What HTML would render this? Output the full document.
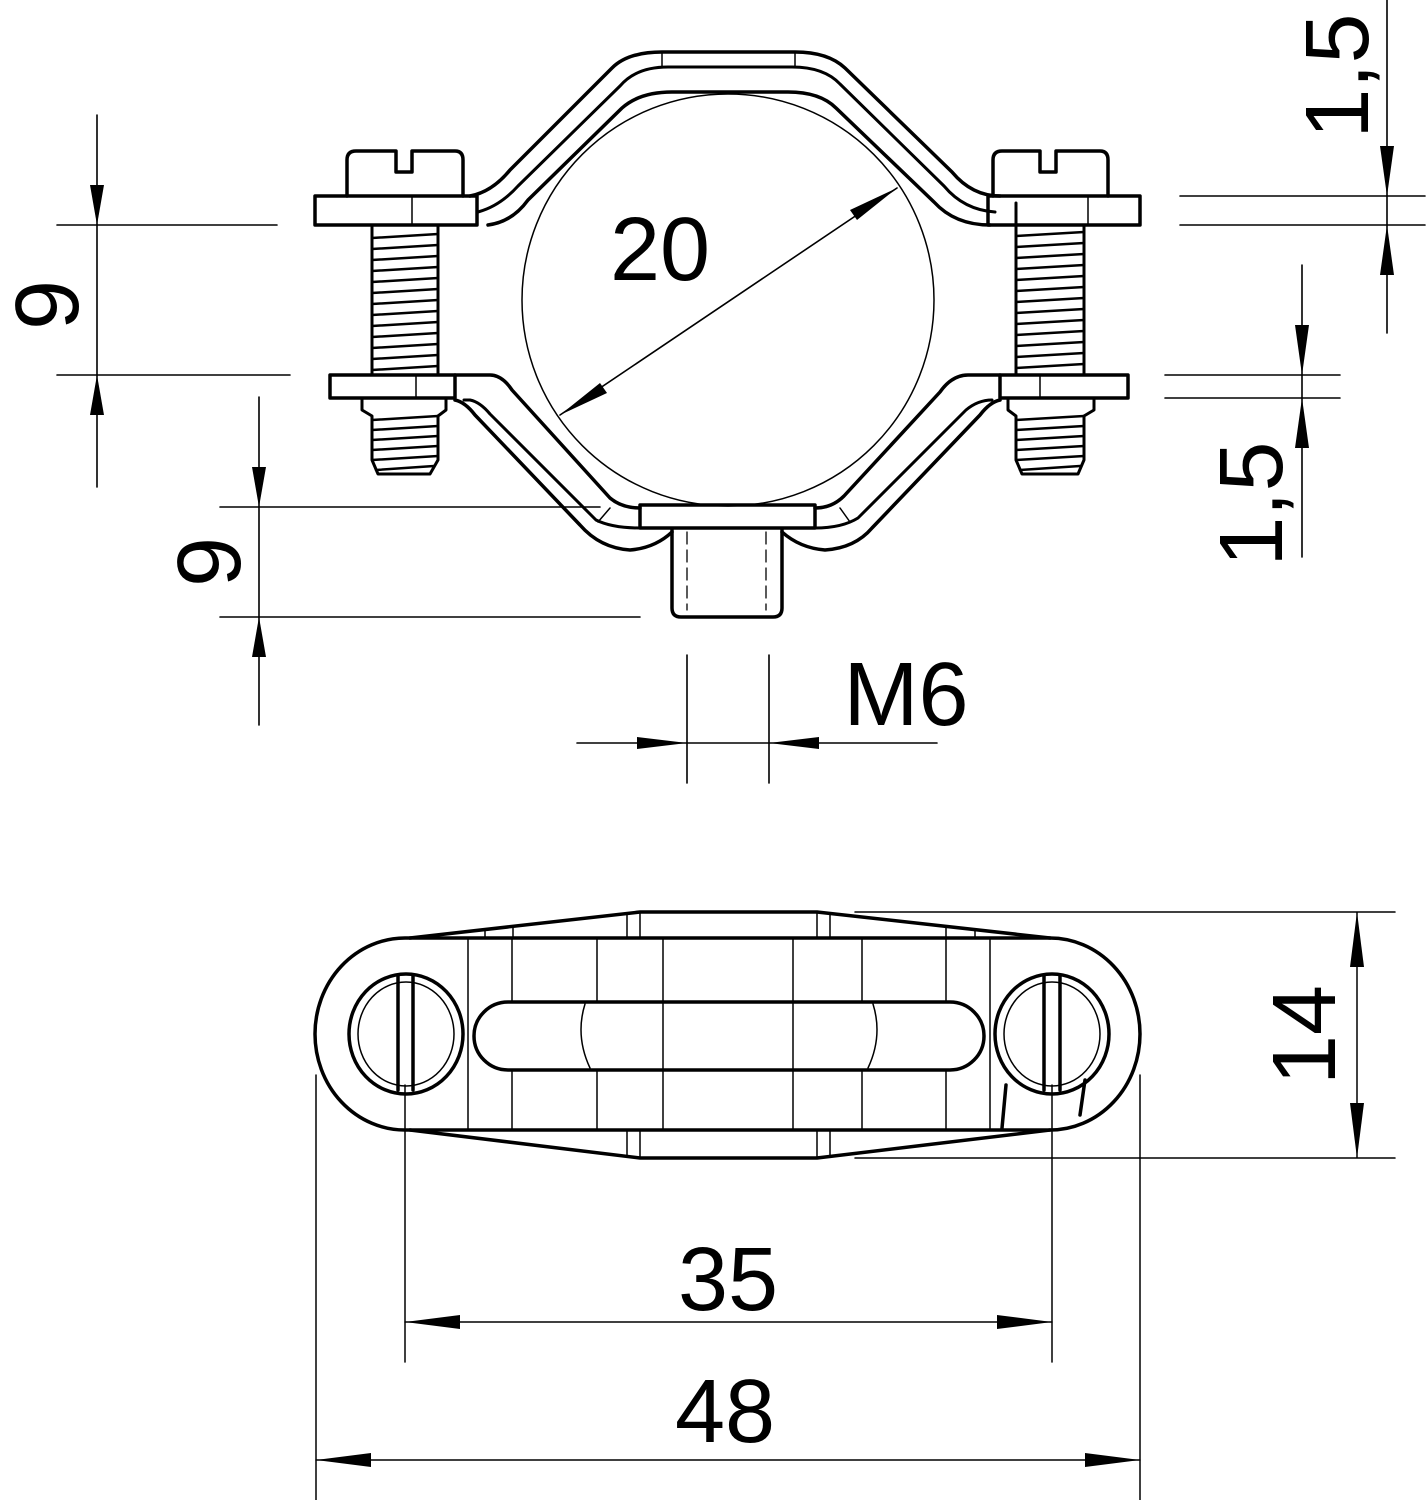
<!DOCTYPE html>
<html><head><meta charset="utf-8"><style>html,body{margin:0;padding:0;background:#fff}svg{display:block}</style></head>
<body>
<svg width="1427" height="1500" viewBox="0 0 1427 1500" xmlns="http://www.w3.org/2000/svg">
<rect width="1427" height="1500" fill="#fff"/>
<g fill="none" stroke="#000" stroke-linecap="round" stroke-linejoin="round">
<!-- ===== TOP VIEW ===== -->
<circle cx="728" cy="300" r="206" stroke-width="1.5"/>
<!-- upper strap -->
<g stroke-width="3.5">
<path d="M470 196 Q492 192 510 170 L612 68 Q628 52 662 52 L795 52 Q828 52 845 68 L952 172 Q972 196 1000 196"/>
<path d="M478 212 Q500 206 518 186 L620 86 Q636 67 668 67 L792 67 Q824 67 840 84 L944 186 Q964 210 995 212" stroke-width="3"/>
<path d="M488 225 Q512 222 528 200 L622 108 Q640 92 672 92 L788 92 Q820 92 836 108 L934 202 Q955 225 990 225"/>
</g>
<line x1="662" y1="52" x2="662" y2="67" stroke-width="1.5"/>
<line x1="795" y1="52" x2="795" y2="67" stroke-width="1.5"/>
<!-- flanges -->
<rect x="315" y="196" width="162" height="29" stroke-width="3.5"/>
<rect x="988" y="196" width="152" height="29" stroke-width="3.5"/>
<line x1="412" y1="196" x2="412" y2="225" stroke-width="1.5"/>
<line x1="1088" y1="196" x2="1088" y2="225" stroke-width="1.5"/>
<!-- screw heads -->
<path d="M347 196 L347 160 Q347 151 356 151 L396 151 L396 172 L412 172 L412 151 L455 151 Q463 151 463 160 L463 196" stroke-width="3.5"/>
<path d="M993 196 L993 160 Q993 151 1002 151 L1040 151 L1040 172 L1056 172 L1056 151 L1100 151 Q1108 151 1108 160 L1108 196" stroke-width="3.5"/>
<!-- threads upper -->
<g stroke-width="3">
<path d="M372 225 L372 375 M438 225 L438 375"/>
<path d="M1016 203 L1016 375 M1084 225 L1084 375"/>
</g>
<g stroke-width="2.5">
<path d="M372 238 L438 234 M372 249 L438 245 M372 260 L438 256 M372 271 L438 267 M372 282 L438 278 M372 293 L438 289 M372 304 L438 300 M372 315 L438 311 M372 326 L438 322 M372 337 L438 333 M372 348 L438 344 M372 359 L438 355 M372 370 L438 366"/>
<path d="M1016 236 L1084 232 M1016 247 L1084 243 M1016 258 L1084 254 M1016 269 L1084 265 M1016 280 L1084 276 M1016 291 L1084 287 M1016 302 L1084 298 M1016 313 L1084 309 M1016 324 L1084 320 M1016 335 L1084 331 M1016 346 L1084 342 M1016 357 L1084 353 M1016 368 L1084 364"/>
</g>
<!-- lower flanges -->
<rect x="330" y="375" width="125" height="23" stroke-width="3.5"/>
<rect x="1000" y="375" width="128" height="23" stroke-width="3.5"/>
<line x1="416" y1="375" x2="416" y2="398" stroke-width="1.5"/>
<line x1="1040" y1="375" x2="1040" y2="398" stroke-width="1.5"/>
<!-- lower strap -->
<g stroke-width="3.5">
<path d="M455 375 L490 375 Q502 375 512 390 L610 498 Q622 508 640 508"/>
<path d="M815 508 Q832 508 844 496 L940 392 Q952 375 968 375 L1000 375"/>
<path d="M455 400 Q465 402 475 415 L580 525 Q600 548 630 550 Q655 548 672 532"/>
<path d="M782 532 Q800 548 825 550 Q855 548 872 528 L980 415 Q990 402 1000 400"/>
<path d="M464 400 L470 400 Q480 402 490 414 L596 520 Q612 528 640 528" stroke-width="3"/>
<path d="M815 528 Q842 528 858 518 L966 410 Q978 400 992 400" stroke-width="3"/>
</g>
<line x1="598" y1="522" x2="610" y2="508" stroke-width="1.5"/>
<line x1="850" y1="522" x2="840" y2="508" stroke-width="1.5"/>
<rect x="640" y="505" width="175" height="23" stroke-width="3.5"/>
<!-- lower nuts / threads -->
<path d="M362 398 L362 410 L372 416 L372 460 L378 474 L430 474 L438 460 L438 416 L446 410 L446 398" stroke-width="3"/>
<path d="M372 420 L438 416 M372 430 L438 426 M372 440 L438 436 M372 450 L438 446 M372 460 L438 456 M376 470 L434 466" stroke-width="2.5"/>
<path d="M1008 398 L1008 410 L1016 416 L1016 460 L1022 474 L1078 474 L1084 460 L1084 416 L1094 410 L1094 398" stroke-width="3"/>
<path d="M1016 420 L1084 416 M1016 430 L1084 426 M1016 440 L1084 436 M1016 450 L1084 446 M1016 460 L1084 456 M1020 470 L1080 466" stroke-width="2.5"/>
<!-- stud -->
<path d="M672 530 L672 608 Q672 617 681 617 L773 617 Q782 617 782 608 L782 530" stroke-width="3.5"/>
<path d="M687 532 L687 610 M766 532 L766 610" stroke-width="1.3" stroke-dasharray="12 6"/>
<!-- ===== dimensions top ===== -->
<g stroke-width="1.6">
<path d="M97 115 L97 487 M57 225 L277 225 M57 375 L290 375"/>
<path d="M259 397 L259 725 M220 507 L600 507 M220 617 L640 617"/>
<path d="M560 415 L897 188"/>
<path d="M687 655 L687 783 M769 655 L769 783 M577 743 L937 743"/>
<path d="M1387 0 L1387 333 M1180 196 L1425 196 M1180 225 L1425 225"/>
<path d="M1302 265 L1302 557 M1165 375 L1340 375 M1165 398 L1340 398"/>
</g>
<!-- ===== BOTTOM VIEW ===== -->
<g stroke-width="3.5">
<path d="M405 938 L1050 938 A90 96 0 0 1 1050 1130 L405 1130 A90 96 0 0 1 405 938 Z"/>
<path d="M410 938 L640 912 L817 912 L1050 938"/>
<path d="M410 1130 L640 1158 L817 1158 L1050 1130"/>
<path d="M508 1002 L950 1002 A34 34 0 0 1 950 1070 L508 1070 A34 34 0 0 1 508 1002 Z"/>
<ellipse cx="406" cy="1034" rx="57" ry="60"/>
<ellipse cx="1052" cy="1034" rx="57" ry="60"/>
<path d="M398 976 L398 1090 M413 976 L413 1090"/>
<path d="M1044 976 L1044 1090 M1060 976 L1060 1090"/>
<path d="M1006 1085 L1002 1128 M1085 1080 L1080 1115"/>
</g>
<g stroke-width="1.5">
<ellipse cx="406" cy="1034" rx="48" ry="52"/>
<ellipse cx="1052" cy="1034" rx="48" ry="52"/>
<path d="M468 938 L468 1130 M512 938 L512 1002 M512 1070 L512 1130 M597 938 L597 1002 M597 1070 L597 1130 M663 938 L663 1130 M793 938 L793 1130 M862 938 L862 1002 M862 1070 L862 1130 M946 938 L946 1002 M946 1070 L946 1130 M990 938 L990 1130"/>
<path d="M627 914 L627 938 M640 912 L640 938 M817 912 L817 938 M830 914 L830 938"/>
<path d="M627 1130 L627 1156 M640 1130 L640 1158 M817 1130 L817 1158 M830 1130 L830 1156"/>
<path d="M485 930 L485 938 M513 926 L513 938 M946 926 L946 938 M975 930 L975 938"/>
<path d="M585 1004 Q575 1036 590 1068 M873 1004 Q883 1036 868 1068"/>
<!-- dims -->
<path d="M316 1075 L316 1500 M1140 1075 L1140 1500 M405 1085 L405 1362 M1052 1085 L1052 1362"/>
<path d="M405 1322 L1052 1322 M316 1460 L1140 1460"/>
<path d="M1357 912 L1357 1158 M855 912 L1395 912 M855 1158 L1395 1158"/>
</g>
</g>
<!-- arrowheads -->
<g fill="#000">
<polygon points="97,225 90,185 104,185"/>
<polygon points="97,375 90,415 104,415"/>
<polygon points="259,507 252,467 266,467"/>
<polygon points="259,617 252,657 266,657"/>
<polygon points="687,743 637,737 637,749"/>
<polygon points="769,743 819,737 819,749"/>
<polygon points="1387,196 1380,146 1394,146"/>
<polygon points="1387,225 1380,275 1394,275"/>
<polygon points="1302,375 1295,325 1309,325"/>
<polygon points="1302,398 1295,448 1309,448"/>
<polygon points="897,188 850,210 857,220"/>
<polygon points="560,415 607,393 600,383"/>
<polygon points="405,1322 460,1315 460,1329"/>
<polygon points="1052,1322 997,1315 997,1329"/>
<polygon points="316,1460 371,1453 371,1467"/>
<polygon points="1140,1460 1085,1453 1085,1467"/>
<polygon points="1357,912 1350,967 1364,967"/>
<polygon points="1357,1158 1350,1103 1364,1103"/>
</g>
<g font-family="Liberation Sans, Arial, sans-serif" font-size="90" fill="#000" text-anchor="middle">
<text x="660" y="280">20</text>
<text x="906" y="725">M6</text>
<text x="728" y="1310">35</text>
<text x="725" y="1442">48</text>
<text transform="translate(78,305) rotate(-90)">9</text>
<text transform="translate(240,562) rotate(-90)">9</text>
<text transform="translate(1368,76) rotate(-90)">1,5</text>
<text transform="translate(1282,504) rotate(-90)">1,5</text>
<text transform="translate(1335,1035) rotate(-90)">14</text>
</g>
</svg>
</body></html>
